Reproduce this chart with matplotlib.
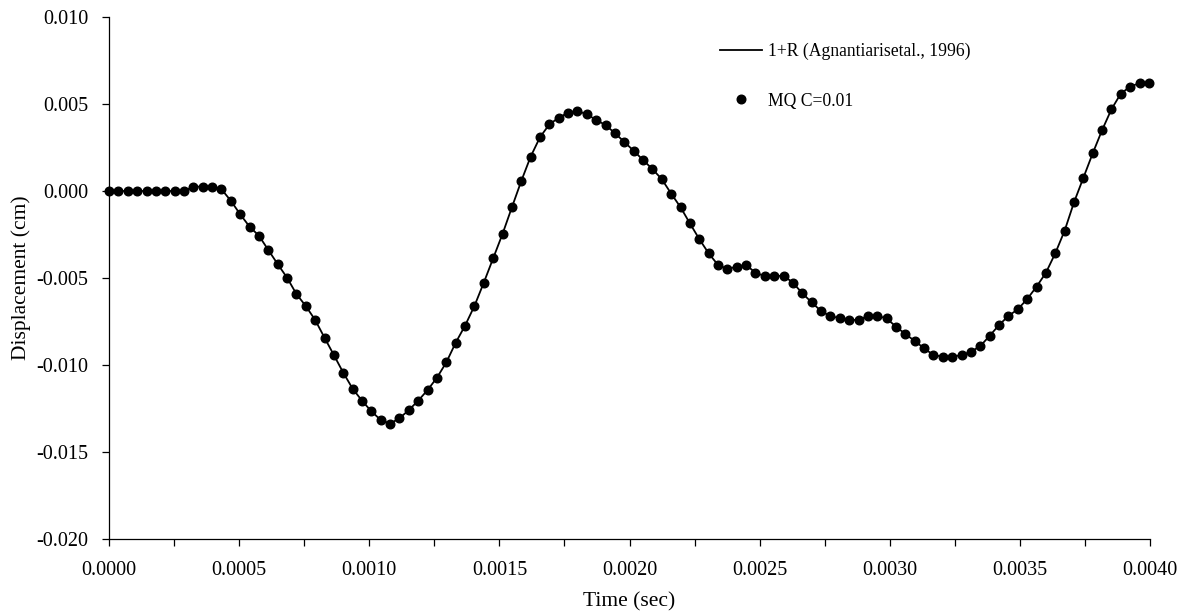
import matplotlib
matplotlib.use("Agg")
import matplotlib.pyplot as plt
from matplotlib.ticker import MultipleLocator, FormatStrFormatter

plt.rcParams['font.family'] = ['Liberation Serif', 'DejaVu Serif']
plt.rcParams['axes.unicode_minus'] = False

# sampling times (microseconds)
time_us = [
    0, 36, 72, 108, 144, 180, 216, 252, 288, 324,
    360, 396, 432, 468, 504, 540, 576, 612, 648, 684,
    720, 756, 792, 828, 864, 900, 936, 972, 1008, 1044,
    1080, 1116, 1152, 1188, 1224, 1260, 1296, 1332, 1368, 1404,
    1440, 1476, 1512, 1548, 1584, 1620, 1656, 1692, 1728, 1764,
    1800, 1836, 1872, 1908, 1944, 1980, 2016, 2052, 2088, 2124,
    2160, 2196, 2232, 2268, 2304, 2340, 2376, 2412, 2448, 2484,
    2520, 2556, 2592, 2628, 2664, 2700, 2736, 2772, 2808, 2844,
    2880, 2916, 2952, 2988, 3024, 3060, 3096, 3132, 3168, 3204,
    3240, 3276, 3312, 3348, 3384, 3420, 3456, 3492, 3528, 3564,
    3600, 3636, 3672, 3708, 3744, 3780, 3816, 3852, 3888, 3924,
    3960, 3996,
]

# displacement (cm)
disp_cm = [
    0.0, 0.0, 0.0, 0.0, 0.0, 0.0, 0.0, 0.0, 0.0, 0.00025,
    0.00025, 0.00025, 0.0001, -0.00056, -0.00134, -0.00205, -0.00257, -0.00339, -0.0042, -0.00498,
    -0.00592, -0.00661, -0.00741, -0.00843, -0.00943, -0.01044, -0.01136, -0.01205, -0.01266, -0.01316,
    -0.01337, -0.01306, -0.01259, -0.01205, -0.01144, -0.01073, -0.00985, -0.00872, -0.00774, -0.00661,
    -0.00527, -0.00387, -0.00247, -0.00094, 0.00057, 0.00197, 0.00309, 0.00383, 0.00421, 0.0045,
    0.0046, 0.00441, 0.00408, 0.00379, 0.00332, 0.00282, 0.00231, 0.00178, 0.00126, 0.00068,
    -0.00015, -0.00093, -0.00186, -0.00276, -0.00358, -0.00425, -0.00448, -0.00435, -0.00425, -0.0047,
    -0.00489, -0.00489, -0.00487, -0.00527, -0.00588, -0.0064, -0.0069, -0.0072, -0.0073, -0.00741,
    -0.00741, -0.00718, -0.00718, -0.00732, -0.0078, -0.00822, -0.00862, -0.00904, -0.00943, -0.00952,
    -0.00952, -0.00943, -0.00924, -0.00891, -0.00832, -0.0077, -0.00718, -0.0068, -0.00621, -0.0055,
    -0.0047, -0.00358, -0.00228, -0.00065, 0.00076, 0.00217, 0.0035, 0.0047, 0.0056, 0.006,
    0.0062, 0.0062,
]

t = [v * 1e-6 for v in time_us]

fig = plt.figure(figsize=(11.89, 6.13), dpi=100)
ax = fig.add_axes([0.0917, 0.1207, 0.8755, 0.8516])

ax.plot(t, disp_cm, color='black', lw=1.3, label='1+R (Agnantiarisetal., 1996)',
        clip_on=False)
ax.plot(t, disp_cm, 'o', color='black', ms=6.2, ls='none', label='MQ C=0.01',
        clip_on=False, zorder=3)

ax.set_xlim(0, 0.004)
ax.set_ylim(-0.020, 0.010)
ax.xaxis.set_major_locator(MultipleLocator(0.0005))
ax.xaxis.set_minor_locator(MultipleLocator(0.00025))
ax.yaxis.set_major_locator(MultipleLocator(0.005))
ax.xaxis.set_major_formatter(FormatStrFormatter('%.4f'))
ax.yaxis.set_major_formatter(FormatStrFormatter('%.3f'))

for s in ['top', 'right']:
    ax.spines[s].set_visible(False)
for s in ['left', 'bottom']:
    ax.spines[s].set_linewidth(0.9)

ax.tick_params(axis='both', which='both', direction='out', width=0.9, labelsize=14.5)
ax.tick_params(axis='x', which='major', length=5, pad=11)
ax.tick_params(axis='x', which='minor', length=5)
ax.tick_params(axis='y', which='major', length=5, pad=10)

ax.set_xlabel('Time (sec)', fontsize=15.5, labelpad=9)
ax.set_ylabel('Displacement (cm)', fontsize=15.5, labelpad=4)

ax.legend(loc='upper left', bbox_to_anchor=(0.587, 0.951), frameon=False,
          fontsize=12.7, handlelength=2.4, handletextpad=0.3, labelspacing=1.85,
          borderpad=0, borderaxespad=0, markerscale=1.0)

fig.savefig('out.png', dpi=100)
